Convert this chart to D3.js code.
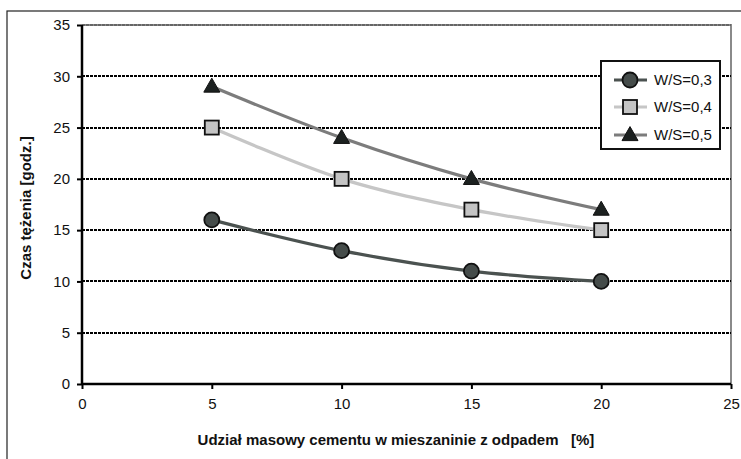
<!DOCTYPE html>
<html><head><meta charset="utf-8">
<script src="https://cdn.jsdelivr.net/npm/d3@7"></script>
<style>body{margin:0;background:#fff}svg{display:block;font-family:Arial,"Liberation Sans",sans-serif}</style>
</head><body><svg id="c" width="741" height="459"></svg>
<script>
const xValues = [5, 10, 15, 20];
const seriesNames = ["W/S=0,3", "W/S=0,4", "W/S=0,5"];
const ws03 = [16, 13, 11, 10];
const ws04 = [25, 20, 17, 15];
const ws05 = [29, 24, 20, 17];
const xTicks = [0, 5, 10, 15, 20, 25];
const yTicks = [0, 5, 10, 15, 20, 25, 30, 35];
const xTitle = "Udział masowy cementu w mieszaninie z odpadem   [%]";
const yTitle = "Czas tężenia [godz.]";

const styles = [
  {line:"#4b5250", fill:"#454c4a", marker:"circle"},
  {line:"#c6c6c6", fill:"#c4c4c4", marker:"square"},
  {line:"#7c7c7c", fill:"#1c2120", marker:"triangle"}
];
const series = [ws03, ws04, ws05];

const svg = d3.select("#c");
const x = d3.scaleLinear().domain([0,25]).range([82,731]);
const y = d3.scaleLinear().domain([0,35]).range([384,25]);

// outer border
svg.append("rect").attr("x",7).attr("y",11).attr("width",760).attr("height",480)
  .attr("fill","none").attr("stroke","#222").attr("stroke-width",1.2);

// plot border (gray)
svg.append("path").attr("d",`M${x(0)},${y(35)}H${x(25)}V${y(0)}`)
  .attr("fill","none").attr("stroke","#8a8a8a").attr("stroke-width",2);

// gridlines
svg.append("g").selectAll("line").data(yTicks.filter(d=>d>0)).join("line")
  .attr("x1",x(0)).attr("x2",x(25)).attr("y1",d=>Math.round(y(d))).attr("y2",d=>Math.round(y(d)))
  .attr("stroke",d=>d===35?"#666":"#000").attr("stroke-width",2)
  .attr("shape-rendering","crispEdges")
  .attr("stroke-dasharray","3,1");

// axes
const ya = svg.append("g").attr("transform",`translate(${x(0)},0)`)
  .call(d3.axisLeft(y).tickValues(yTicks).tickSize(5).tickPadding(7));
const xa = svg.append("g").attr("transform",`translate(0,${y(0)})`)
  .call(d3.axisBottom(x).tickValues(xTicks).tickSize(5).tickPadding(9));
[ya,xa].forEach(a=>{
  a.select(".domain").attr("stroke","#000").attr("stroke-width",2.5);
  a.selectAll(".tick line").attr("stroke","#000").attr("stroke-width",2);
  a.selectAll(".tick text").attr("font-size",15).attr("fill","#111")
    .attr("font-family","Arial,'Liberation Sans',sans-serif");
});
ya.select(".domain").attr("d",`M0,${y(35)}V${y(0)}`);
xa.select(".domain").attr("d",`M${x(0)},0H${x(25)}`);

// titles
svg.append("text").attr("x",396).attr("y",445).attr("text-anchor","middle")
  .attr("font-weight","bold").attr("font-size",15).attr("fill","#111")
  .style("white-space","pre").text(xTitle);
svg.append("text").attr("transform","translate(31,208) rotate(-90)")
  .attr("text-anchor","middle").attr("font-weight","bold").attr("font-size",15).attr("fill","#111")
  .text(yTitle);

function drawMarker(g, type, cx, cy, fill, scale=1){
  if(type==="circle"){
    g.append("circle").attr("cx",cx).attr("cy",cy).attr("r",7.5*scale)
      .attr("fill",fill).attr("stroke","#111").attr("stroke-width",1.8);
  } else if(type==="square"){
    const s=14*scale;
    g.append("rect").attr("x",cx-s/2).attr("y",cy-s/2).attr("width",s).attr("height",s)
      .attr("fill",fill).attr("stroke","#111").attr("stroke-width",1.8);
  } else {
    const w=16*scale, h=14*scale;
    g.append("path").attr("d",`M${cx},${cy-h*0.6}L${cx+w/2},${cy+h*0.4}L${cx-w/2},${cy+h*0.4}Z`)
      .attr("fill",fill).attr("stroke","#111").attr("stroke-width",1);
  }
}

const line = d3.line().x((d,i)=>x(xValues[i])).y(d=>y(d)).curve(d3.curveCatmullRom.alpha(0.5));
const plot = svg.append("g");
series.forEach((s,k)=>{
  plot.append("path").attr("d",line(s)).attr("fill","none")
    .attr("stroke",styles[k].line).attr("stroke-width",3.2);
});
series.forEach((s,k)=>{
  s.forEach((v,i)=>drawMarker(plot, styles[k].marker, x(xValues[i]), y(v), styles[k].fill));
});

// legend
const lg = svg.append("g");
lg.append("rect").attr("x",601).attr("y",61).attr("width",119).attr("height",88)
  .attr("fill","#fff").attr("stroke","#111").attr("stroke-width",2);
const ly = [80,107,135];
seriesNames.forEach((n,k)=>{
  lg.append("line").attr("x1",614).attr("x2",647).attr("y1",ly[k]).attr("y2",ly[k])
    .attr("stroke",styles[k].line).attr("stroke-width",3.2);
  drawMarker(lg, styles[k].marker, 630, ly[k], styles[k].fill);
  lg.append("text").attr("x",654).attr("y",ly[k]+5).attr("font-size",15).attr("fill","#111").text(n);
});
</script></body></html>
